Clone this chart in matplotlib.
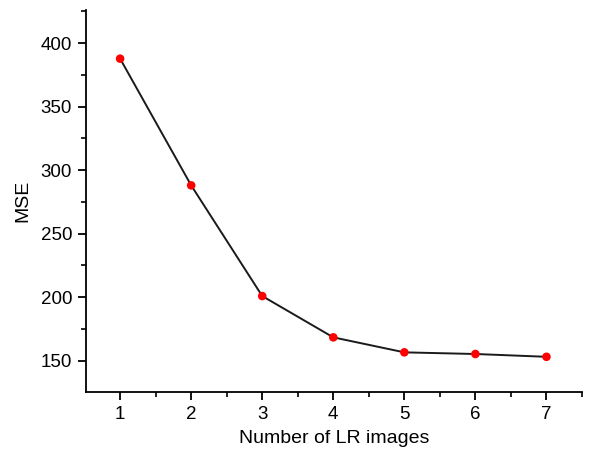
import numpy as np
import matplotlib.pyplot as plt
from matplotlib.ticker import MultipleLocator

plt.rcParams['font.family'] = ['Liberation Sans', 'DejaVu Sans']

n_images = [1, 2, 3, 4, 5, 6, 7]
mse = [387.7, 288.0, 200.9, 168.4, 156.6, 155.3, 153.1]

fig = plt.figure(figsize=(6.05, 4.49), dpi=100)
ax = fig.add_axes([86 / 605, 1 - 392 / 449, (582 - 86) / 605, (392 - 10) / 449])

ax.plot(n_images, mse, color='#1a1a1a', lw=1.4, zorder=2)
ax.scatter(n_images, mse, s=38, color='#ff0000', edgecolors='none', zorder=3)

ax.set_xlim(0.52, 7.5)
ax.set_ylim(125.4, 426)
ax.xaxis.set_major_locator(MultipleLocator(1))
ax.xaxis.set_minor_locator(MultipleLocator(0.5))
ax.yaxis.set_major_locator(MultipleLocator(50))
ax.yaxis.set_minor_locator(MultipleLocator(25))

ax.spines['top'].set_visible(False)
ax.spines['right'].set_visible(False)
for s in ('left', 'bottom'):
    ax.spines[s].set_linewidth(1.3)
ax.tick_params(which='major', direction='out', length=6, width=1.3, labelsize=13.5, pad=4)
ax.tick_params(which='minor', direction='out', length=3.5, width=1.2)

ax.set_xlabel('Number of LR images', fontsize=14, labelpad=5)
ax.set_ylabel('MSE', fontsize=14, labelpad=7)

fig.savefig('out.png', dpi=100)
